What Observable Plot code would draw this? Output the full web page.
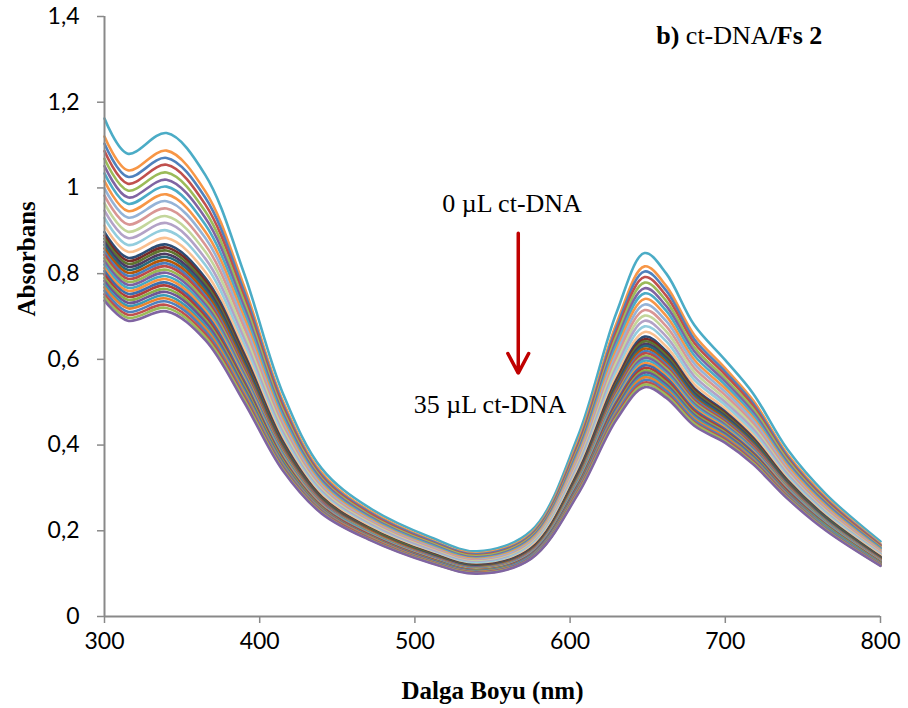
<!DOCTYPE html>
<html>
<head>
<meta charset="utf-8">
<script src="https://cdn.jsdelivr.net/npm/d3@7"></script>
<script src="https://cdn.jsdelivr.net/npm/@observablehq/plot@0.6"></script>
<style>
  html, body { margin: 0; padding: 0; background: #ffffff; }
  #chart { width: 908px; height: 708px; }
</style>
</head>
<body>
<div id="chart"></div>
<script>
// Wavelength grid (nm) at which each spectrum was read
const wavelengths = [300, 315, 340, 365, 390, 415, 440, 470, 510, 540, 575, 605, 630, 648, 662, 680, 700, 718, 740, 765, 800];

// Absorbance spectra, from 0 µL ct-DNA (top) to 35 µL ct-DNA (bottom)
const spectra = [
  [1.162,1.080,1.128,1.030,0.800,0.520,0.345,0.255,0.185,0.152,0.200,0.420,0.710,0.848,0.800,0.680,0.598,0.520,0.390,0.285,0.175],
  [1.120,1.041,1.087,0.992,0.770,0.502,0.335,0.248,0.179,0.147,0.194,0.407,0.685,0.817,0.771,0.657,0.579,0.504,0.379,0.277,0.169],
  [1.103,1.026,1.070,0.977,0.758,0.495,0.330,0.245,0.177,0.145,0.191,0.401,0.675,0.805,0.760,0.647,0.571,0.497,0.374,0.273,0.167],
  [1.086,1.010,1.054,0.961,0.746,0.488,0.326,0.242,0.174,0.143,0.188,0.396,0.665,0.792,0.748,0.638,0.564,0.491,0.369,0.270,0.165],
  [1.068,0.994,1.036,0.945,0.734,0.480,0.322,0.238,0.172,0.141,0.186,0.390,0.655,0.779,0.736,0.628,0.555,0.484,0.365,0.266,0.162],
  [1.051,0.978,1.019,0.930,0.722,0.473,0.318,0.235,0.169,0.138,0.183,0.385,0.645,0.766,0.724,0.619,0.548,0.477,0.360,0.263,0.160],
  [1.034,0.963,1.003,0.914,0.710,0.466,0.313,0.232,0.167,0.136,0.180,0.379,0.635,0.754,0.713,0.609,0.540,0.470,0.355,0.259,0.158],
  [1.016,0.946,0.985,0.898,0.697,0.458,0.309,0.229,0.164,0.134,0.178,0.374,0.624,0.741,0.701,0.599,0.532,0.463,0.351,0.256,0.155],
  [0.999,0.931,0.969,0.883,0.685,0.451,0.305,0.226,0.162,0.132,0.175,0.368,0.614,0.728,0.689,0.590,0.524,0.457,0.346,0.252,0.153],
  [0.982,0.915,0.952,0.867,0.673,0.444,0.300,0.223,0.160,0.130,0.172,0.363,0.604,0.715,0.677,0.580,0.516,0.450,0.341,0.249,0.151],
  [0.964,0.898,0.934,0.851,0.660,0.436,0.296,0.220,0.157,0.128,0.170,0.357,0.594,0.702,0.665,0.571,0.508,0.443,0.336,0.245,0.148],
  [0.947,0.883,0.918,0.835,0.648,0.429,0.292,0.217,0.155,0.126,0.167,0.352,0.584,0.690,0.653,0.561,0.500,0.437,0.332,0.242,0.146],
  [0.930,0.867,0.901,0.820,0.636,0.422,0.288,0.214,0.152,0.124,0.165,0.346,0.574,0.677,0.642,0.552,0.493,0.430,0.327,0.239,0.144],
  [0.912,0.851,0.883,0.804,0.624,0.414,0.283,0.211,0.150,0.121,0.162,0.341,0.563,0.664,0.630,0.542,0.485,0.423,0.322,0.235,0.142],
  [0.897,0.837,0.868,0.790,0.613,0.408,0.279,0.208,0.148,0.120,0.159,0.336,0.554,0.653,0.619,0.533,0.478,0.417,0.318,0.232,0.139],
  [0.889,0.830,0.861,0.783,0.607,0.404,0.278,0.207,0.147,0.119,0.158,0.333,0.550,0.647,0.614,0.529,0.474,0.414,0.316,0.230,0.138],
  [0.882,0.823,0.854,0.776,0.602,0.401,0.276,0.206,0.146,0.118,0.157,0.331,0.545,0.642,0.609,0.525,0.471,0.411,0.314,0.229,0.137],
  [0.874,0.816,0.846,0.769,0.597,0.398,0.274,0.204,0.144,0.117,0.156,0.329,0.541,0.636,0.603,0.521,0.467,0.408,0.312,0.227,0.136],
  [0.867,0.809,0.839,0.763,0.592,0.395,0.272,0.203,0.143,0.116,0.155,0.326,0.537,0.631,0.599,0.517,0.464,0.406,0.310,0.226,0.135],
  [0.859,0.802,0.831,0.756,0.586,0.392,0.270,0.202,0.142,0.115,0.154,0.324,0.532,0.625,0.593,0.512,0.460,0.402,0.308,0.224,0.134],
  [0.851,0.795,0.824,0.748,0.580,0.388,0.268,0.200,0.141,0.114,0.152,0.321,0.527,0.619,0.588,0.508,0.457,0.399,0.306,0.223,0.133],
  [0.844,0.788,0.817,0.742,0.576,0.385,0.266,0.199,0.140,0.113,0.151,0.319,0.523,0.614,0.583,0.504,0.454,0.397,0.304,0.221,0.132],
  [0.836,0.781,0.809,0.735,0.570,0.382,0.264,0.198,0.139,0.112,0.150,0.317,0.518,0.608,0.578,0.500,0.450,0.393,0.302,0.220,0.131],
  [0.829,0.774,0.802,0.728,0.565,0.379,0.263,0.196,0.138,0.111,0.149,0.314,0.514,0.603,0.573,0.496,0.447,0.391,0.300,0.218,0.130],
  [0.821,0.767,0.794,0.721,0.559,0.376,0.261,0.195,0.137,0.110,0.148,0.312,0.510,0.597,0.567,0.492,0.443,0.388,0.298,0.217,0.129],
  [0.813,0.760,0.787,0.714,0.554,0.372,0.259,0.193,0.136,0.109,0.147,0.309,0.505,0.591,0.562,0.487,0.440,0.385,0.296,0.215,0.128],
  [0.806,0.753,0.779,0.707,0.549,0.369,0.257,0.192,0.135,0.108,0.146,0.307,0.501,0.586,0.557,0.483,0.436,0.382,0.294,0.214,0.127],
  [0.798,0.746,0.772,0.700,0.543,0.366,0.255,0.191,0.134,0.108,0.144,0.304,0.496,0.580,0.552,0.479,0.433,0.379,0.292,0.212,0.126],
  [0.790,0.739,0.764,0.693,0.538,0.363,0.253,0.189,0.133,0.107,0.143,0.302,0.491,0.574,0.546,0.474,0.429,0.376,0.289,0.211,0.125],
  [0.783,0.732,0.757,0.687,0.532,0.359,0.251,0.188,0.132,0.106,0.142,0.300,0.487,0.569,0.541,0.470,0.426,0.373,0.287,0.209,0.124],
  [0.775,0.725,0.749,0.679,0.527,0.356,0.249,0.187,0.130,0.105,0.141,0.297,0.482,0.563,0.536,0.466,0.422,0.370,0.285,0.208,0.123],
  [0.768,0.719,0.742,0.673,0.522,0.353,0.248,0.186,0.129,0.104,0.140,0.295,0.478,0.558,0.531,0.462,0.419,0.367,0.283,0.206,0.122],
  [0.760,0.711,0.735,0.666,0.516,0.350,0.246,0.184,0.128,0.103,0.139,0.292,0.474,0.552,0.526,0.458,0.415,0.364,0.281,0.205,0.121],
  [0.752,0.704,0.727,0.659,0.511,0.346,0.244,0.183,0.127,0.102,0.137,0.290,0.469,0.546,0.520,0.453,0.412,0.361,0.279,0.203,0.120],
  [0.745,0.697,0.720,0.652,0.506,0.343,0.242,0.181,0.126,0.101,0.136,0.288,0.465,0.541,0.516,0.450,0.409,0.358,0.277,0.202,0.119],
  [0.737,0.690,0.712,0.645,0.500,0.340,0.240,0.180,0.125,0.100,0.135,0.285,0.460,0.535,0.510,0.445,0.405,0.355,0.275,0.200,0.118]
];

// Line colours, top spectrum first
const lineColors = [
  "#4BACC6", "#F79646",
  "#4F81BD", "#C0504D", "#9BBB59", "#8064A2", "#4BACC6", "#F79646",
  "#95B3D7", "#D99694", "#C3D69B", "#B3A2C7", "#93CDDD", "#FAC090",
  "#2C4D75", "#772C2A", "#5F7530", "#4D3B62", "#276A7C", "#B65708",
  "#4A7EBB", "#BE4B48", "#98B954", "#7D60A0", "#46AAC5", "#F69240",
  "#3C6FAD", "#B03E3B", "#8AAE47", "#6F5595", "#3A9BB5", "#E8822E",
  "#4F81BD", "#C0504D", "#9BBB59", "#8064A2"
];

// Axis ticks
const xTicks = [300, 400, 500, 600, 700, 800];
const yTicks = [0, 0.2, 0.4, 0.6, 0.8, 1, 1.2, 1.4];
const yTickLabels = ["0", "0,2", "0,4", "0,6", "0,8", "1", "1,2", "1,4"];

// Texts
const xTitle = "Dalga Boyu (nm)";
const yTitle = "Absorbans";
const panelTitle = "b) ct-DNA/Fs 2";
const notes = ["0 µL ct-DNA", "35 µL ct-DNA"];
const noteX = [562.6, 548.4];     // nm
const noteY = [0.943, 0.474];     // absorbance (baseline)
const panelX = [655.5];
const panelY = [1.336];
// Arrow (data units)
const arrowX = [566.6];
const arrowFrom = [0.894];
const arrowTo = [0.568];

const axisGrey = "#898989";
const serif = "'Liberation Serif', 'Times New Roman', serif";

const lineMarks = spectra.map((vals, i) =>
  Plot.line(wavelengths, {
    x: (w) => w,
    y: (w, j) => vals[j],
    stroke: lineColors[i],
    strokeWidth: 2.6,
    curve: "catmull-rom"
  })
);

const chart = Plot.plot({
  width: 908,
  height: 708,
  marginLeft: 104,
  marginRight: 28,
  marginTop: 16,
  marginBottom: 92,
  x: { domain: [300, 800] },
  y: { domain: [0, 1.4] },
  style: { background: "#ffffff", fontFamily: "Lato, sans-serif", color: "#000000" },
  marks: [
    Plot.axisY({
      ticks: yTicks,
      tickFormat: (d) => yTickLabels[yTicks.findIndex((t) => Math.abs(t - d) < 1e-9)],
      tickSize: 7,
      tickPadding: 18,
      stroke: axisGrey,
      strokeWidth: 1.5,
      fontSize: 23,
      fill: "#000000",
      label: null
    }),
    Plot.axisX({
      ticks: xTicks,
      tickSize: 7,
      tickPadding: 9,
      stroke: axisGrey,
      strokeWidth: 1.5,
      fontSize: 23,
      fill: "#000000",
      label: null
    }),
    ...lineMarks,
    Plot.ruleX([300], { stroke: axisGrey, strokeWidth: 2 }),
    Plot.ruleY([0], { stroke: axisGrey, strokeWidth: 2 }),
    Plot.text([yTitle], {
      frameAnchor: "left",
      dx: -78,
      rotate: -90,
      text: (d) => d,
      fontFamily: serif,
      fontWeight: "bold",
      fontSize: 25,
      lineAnchor: "middle",
      fill: "#000000"
    }),
    Plot.text([xTitle], {
      frameAnchor: "bottom",
      dy: 74,
      text: (d) => d,
      fontFamily: serif,
      fontWeight: "bold",
      fontSize: 25,
      lineAnchor: "middle",
      fill: "#000000"
    }),
    Plot.text(notes, {
      x: (d, i) => noteX[i],
      y: (d, i) => noteY[i],
      text: (d) => d,
      fontFamily: serif,
      fontSize: 26,
      lineAnchor: "bottom",
      fill: "#000000"
    }),
    Plot.text([panelTitle], {
      x: (d, i) => panelX[i],
      y: (d, i) => panelY[i],
      text: (d) => d,
      fontFamily: serif,
      fontSize: 26,
      textAnchor: "start",
      lineAnchor: "bottom",
      fill: "#000000"
    }),
    Plot.arrow(arrowX, {
      x1: (d) => d,
      x2: (d) => d,
      y1: (d, i) => arrowFrom[i],
      y2: (d, i) => arrowTo[i],
      stroke: "#C00000",
      strokeWidth: 3.5,
      headLength: 9.5,
      headAngle: 56
    })
  ]
});

document.getElementById("chart").appendChild(chart);

// Mixed bold / regular runs in the panel title
d3.select(chart).selectAll("text")
  .filter(function () { return this.textContent === panelTitle; })
  .each(function () {
    const t = d3.select(this);
    t.text(null);
    t.append("tspan").attr("font-weight", "bold").text("b)");
    t.append("tspan").text(" ct-DNA");
    t.append("tspan").attr("font-weight", "bold").text("/Fs 2");
  });
</script>
</body>
</html>
